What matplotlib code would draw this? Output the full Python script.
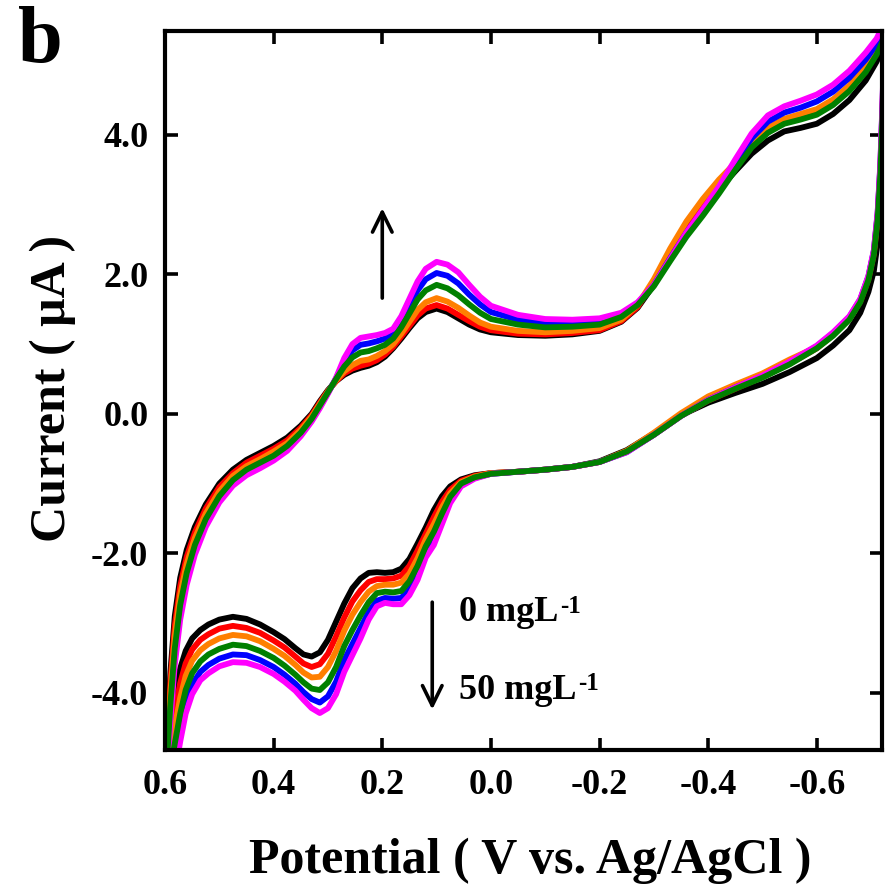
import matplotlib
matplotlib.use("Agg")
import matplotlib.pyplot as plt
import numpy as np

plt.rcParams["font.family"] = ["Liberation Serif", "DejaVu Serif"]
plt.rcParams["font.weight"] = "bold"
plt.rcParams["axes.unicode_minus"] = False

# Potential grids (V vs. Ag/AgCl): forward sweep 0.6 -> -0.72, reverse sweep back
E_fwd = [0.600, 0.596, 0.590, 0.582, 0.572, 0.560, 0.545, 0.525, 0.500, 0.475,
         0.450, 0.425, 0.400, 0.375, 0.350, 0.330, 0.315, 0.300, 0.285, 0.270,
         0.255, 0.240, 0.225, 0.210, 0.195, 0.180, 0.165, 0.150, 0.135, 0.120,
         0.100, 0.080, 0.060, 0.040, 0.020, 0.000, -0.050, -0.100, -0.150, -0.200,
         -0.240, -0.270, -0.300, -0.330, -0.360, -0.390, -0.420, -0.450, -0.480, -0.510,
         -0.540, -0.570, -0.600, -0.630, -0.660, -0.690, -0.710, -0.724]

E_rev = [-0.724, -0.721, -0.717, -0.712, -0.705, -0.695, -0.680, -0.660, -0.630, -0.600,
         -0.550, -0.500, -0.450, -0.400, -0.350, -0.300, -0.250, -0.200, -0.150, -0.100,
         -0.050, 0.000, 0.030, 0.055, 0.075, 0.090, 0.105, 0.120, 0.135, 0.150,
         0.165, 0.180, 0.195, 0.210, 0.225, 0.240, 0.255, 0.270, 0.285, 0.300,
         0.315, 0.330, 0.345, 0.360, 0.380, 0.400, 0.425, 0.450, 0.475, 0.500,
         0.520, 0.535, 0.550, 0.562, 0.572, 0.582, 0.590, 0.600]

# Current (uA) for each concentration step, 0 -> 50 mg/L
I_fwd_black = [-5.40, -4.60, -3.70, -2.90, -2.35, -1.95, -1.62, -1.30, -1.00, -0.80,
               -0.66, -0.56, -0.46, -0.34, -0.17, 0.00, 0.18, 0.34, 0.47, 0.56,
               0.62, 0.66, 0.69, 0.74, 0.82, 0.94, 1.08, 1.23, 1.37, 1.46,
               1.51, 1.46, 1.37, 1.28, 1.21, 1.17, 1.13, 1.12, 1.14, 1.19,
               1.32, 1.52, 1.85, 2.25, 2.62, 2.92, 3.22, 3.48, 3.73, 3.92,
               4.05, 4.10, 4.16, 4.30, 4.50, 4.78, 5.05, 5.30]
I_fwd_red = [-5.44, -4.70, -3.84, -3.04, -2.47, -2.05, -1.70, -1.36, -1.05, -0.85,
             -0.70, -0.60, -0.50, -0.38, -0.20, -0.02, 0.16, 0.33, 0.47, 0.58,
             0.65, 0.69, 0.72, 0.77, 0.85, 0.96, 1.11, 1.26, 1.41, 1.51,
             1.56, 1.51, 1.42, 1.33, 1.25, 1.20, 1.15, 1.14, 1.16, 1.20,
             1.33, 1.53, 1.90, 2.30, 2.67, 2.97, 3.27, 3.56, 3.86, 4.08,
             4.21, 4.28, 4.35, 4.49, 4.69, 4.96, 5.20, 5.44]
I_fwd_orange = [-5.48, -4.80, -3.98, -3.18, -2.59, -2.15, -1.78, -1.43, -1.11, -0.89,
                -0.75, -0.65, -0.54, -0.42, -0.23, -0.04, 0.14, 0.32, 0.48, 0.61,
                0.70, 0.76, 0.78, 0.83, 0.90, 1.00, 1.15, 1.32, 1.49, 1.60,
                1.66, 1.61, 1.52, 1.41, 1.31, 1.25, 1.19, 1.17, 1.19, 1.23,
                1.35, 1.56, 1.93, 2.37, 2.76, 3.08, 3.36, 3.60, 3.88, 4.10,
                4.23, 4.30, 4.37, 4.51, 4.71, 4.98, 5.22, 5.45]
I_fwd_green = [-5.53, -4.93, -4.16, -3.36, -2.74, -2.28, -1.88, -1.51, -1.18, -0.95,
               -0.80, -0.70, -0.60, -0.46, -0.27, -0.07, 0.12, 0.31, 0.50, 0.68,
               0.81, 0.88, 0.90, 0.94, 0.99, 1.08, 1.24, 1.44, 1.64, 1.77,
               1.85, 1.80, 1.70, 1.57, 1.45, 1.36, 1.28, 1.24, 1.25, 1.28,
               1.39, 1.56, 1.83, 2.19, 2.54, 2.84, 3.16, 3.50, 3.82, 4.03,
               4.16, 4.22, 4.29, 4.43, 4.63, 4.90, 5.15, 5.39]
I_fwd_blue = [-5.56, -5.01, -4.27, -3.47, -2.84, -2.36, -1.95, -1.56, -1.22, -0.99,
              -0.84, -0.74, -0.63, -0.50, -0.29, -0.09, 0.10, 0.30, 0.51, 0.74,
              0.91, 0.99, 1.01, 1.04, 1.08, 1.15, 1.32, 1.55, 1.77, 1.93,
              2.02, 1.98, 1.87, 1.71, 1.57, 1.46, 1.35, 1.30, 1.30, 1.33,
              1.42, 1.58, 1.85, 2.23, 2.60, 2.92, 3.24, 3.61, 3.95, 4.19,
              4.32, 4.39, 4.48, 4.62, 4.82, 5.08, 5.30, 5.53]
I_fwd_magenta = [-5.60, -5.10, -4.40, -3.60, -2.95, -2.45, -2.02, -1.62, -1.27, -1.03,
                 -0.88, -0.78, -0.67, -0.53, -0.32, -0.11, 0.08, 0.29, 0.52, 0.80,
                 1.00, 1.09, 1.11, 1.13, 1.16, 1.22, 1.40, 1.65, 1.90, 2.08,
                 2.18, 2.14, 2.03, 1.85, 1.68, 1.55, 1.42, 1.36, 1.35, 1.37,
                 1.45, 1.60, 1.85, 2.22, 2.60, 2.93, 3.26, 3.65, 4.02, 4.28,
                 4.41, 4.49, 4.58, 4.72, 4.92, 5.18, 5.38, 5.60]

I_rev_black = [4.60, 3.70, 2.95, 2.45, 2.05, 1.75, 1.45, 1.20, 0.98, 0.80,
               0.60, 0.43, 0.30, 0.16, -0.02, -0.28, -0.52, -0.68, -0.76, -0.80,
               -0.83, -0.85, -0.88, -0.94, -1.04, -1.18, -1.38, -1.63, -1.86, -2.08,
               -2.22, -2.27, -2.28, -2.27, -2.28, -2.36, -2.50, -2.72, -2.98, -3.24,
               -3.42, -3.48, -3.45, -3.36, -3.23, -3.13, -3.02, -2.94, -2.91, -2.95,
               -3.02, -3.10, -3.22, -3.40, -3.65, -4.05, -4.55, -5.40]
I_rev_red = [5.16, 4.34, 3.47, 2.81, 2.29, 1.93, 1.61, 1.36, 1.13, 0.94,
             0.72, 0.53, 0.36, 0.19, -0.03, -0.30, -0.54, -0.69, -0.76, -0.80,
             -0.83, -0.85, -0.89, -0.96, -1.09, -1.26, -1.48, -1.72, -1.96, -2.18,
             -2.32, -2.36, -2.37, -2.37, -2.41, -2.53, -2.69, -2.92, -3.19, -3.44,
             -3.59, -3.63, -3.58, -3.48, -3.35, -3.25, -3.14, -3.07, -3.04, -3.08,
             -3.16, -3.24, -3.38, -3.58, -3.86, -4.27, -4.72, -5.44]
I_rev_orange = [5.23, 4.42, 3.54, 2.86, 2.32, 1.96, 1.63, 1.38, 1.15, 0.96,
                0.78, 0.58, 0.42, 0.25, 0.01, -0.27, -0.53, -0.69, -0.76, -0.80,
                -0.83, -0.85, -0.90, -0.98, -1.14, -1.34, -1.58, -1.80, -2.07, -2.29,
                -2.42, -2.45, -2.45, -2.47, -2.55, -2.70, -2.88, -3.11, -3.40, -3.63,
                -3.77, -3.78, -3.71, -3.60, -3.47, -3.37, -3.26, -3.19, -3.17, -3.22,
                -3.30, -3.39, -3.54, -3.76, -4.07, -4.49, -4.89, -5.48]
I_rev_green = [5.13, 4.30, 3.44, 2.79, 2.28, 1.92, 1.60, 1.35, 1.12, 0.94,
               0.71, 0.52, 0.36, 0.19, -0.03, -0.30, -0.54, -0.69, -0.76, -0.80,
               -0.83, -0.86, -0.91, -1.00, -1.19, -1.43, -1.69, -1.90, -2.18, -2.40,
               -2.54, -2.56, -2.55, -2.57, -2.70, -2.89, -3.10, -3.33, -3.63, -3.85,
               -3.96, -3.94, -3.85, -3.74, -3.61, -3.50, -3.40, -3.33, -3.31, -3.37,
               -3.45, -3.55, -3.72, -3.96, -4.30, -4.73, -5.08, -5.52]
I_rev_blue = [5.27, 4.46, 3.57, 2.88, 2.34, 1.97, 1.64, 1.39, 1.16, 0.97,
              0.74, 0.54, 0.38, 0.20, -0.03, -0.30, -0.55, -0.69, -0.76, -0.80,
              -0.83, -0.86, -0.92, -1.02, -1.24, -1.51, -1.80, -1.99, -2.29, -2.51,
              -2.64, -2.65, -2.64, -2.68, -2.84, -3.07, -3.30, -3.53, -3.84, -4.05,
              -4.14, -4.09, -3.99, -3.87, -3.74, -3.63, -3.53, -3.46, -3.45, -3.51,
              -3.60, -3.70, -3.88, -4.15, -4.52, -4.96, -5.26, -5.57]
I_rev_magenta = [5.30, 4.50, 3.60, 2.90, 2.35, 1.98, 1.65, 1.40, 1.17, 0.98,
                 0.75, 0.55, 0.38, 0.20, -0.03, -0.30, -0.55, -0.69, -0.76, -0.80,
                 -0.83, -0.86, -0.93, -1.04, -1.28, -1.58, -1.88, -2.06, -2.38, -2.60,
                 -2.73, -2.73, -2.71, -2.76, -2.95, -3.22, -3.46, -3.70, -4.02, -4.22,
                 -4.29, -4.22, -4.10, -3.97, -3.84, -3.73, -3.63, -3.57, -3.56, -3.62,
                 -3.72, -3.82, -4.02, -4.30, -4.70, -5.15, -5.40, -5.60]

series_colors = ["#000000", "#ff0000", "#ff7f00", "#0000ff", "#ff00ff", "#008000"]
series_fwd = [I_fwd_black, I_fwd_red, I_fwd_orange, I_fwd_blue, I_fwd_magenta, I_fwd_green]
series_rev = [I_rev_black, I_rev_red, I_rev_orange, I_rev_blue, I_rev_magenta, I_rev_green]

x_ticks = [0.6, 0.4, 0.2, 0.0, -0.2, -0.4, -0.6]
x_ticklabels = ["0.6", "0.4", "0.2", "0.0", "-0.2", "-0.4", "-0.6"]
y_ticks = [4.0, 2.0, 0.0, -2.0, -4.0]
y_ticklabels = ["4.0", "2.0", "0.0", "-2.0", "-4.0"]

W, H = 887, 884
fig = plt.figure(figsize=(W / 100, H / 100), dpi=100)
ax = fig.add_axes([165 / W, 1 - 750 / H, (882 - 165) / W, (750 - 31) / H])

for c, fwd, rev in zip(series_colors, series_fwd, series_rev):
    x = np.concatenate([E_fwd, E_rev])
    y = np.concatenate([fwd, rev])
    ax.plot(x, y, color=c, lw=4.2, solid_joinstyle="round", solid_capstyle="round")

ax.set_xlim(0.6, -0.72)
ax.set_ylim(-4.82, 5.49)
ax.set_xticks(x_ticks)
ax.set_xticklabels(x_ticklabels)
ax.set_yticks(y_ticks)
ax.set_yticklabels(y_ticklabels)
ax.tick_params(direction="in", length=9, width=2.6, top=True, right=True,
               labelsize=26)
ax.tick_params(axis="x", pad=14)
ax.tick_params(axis="y", pad=12)
for lab in ax.get_xticklabels() + ax.get_yticklabels():
    lab.set_fontweight("bold")
for sp in ax.spines.values():
    sp.set_linewidth(3.0)

# Concentration trend arrows and labels
arrow_kw = dict(arrowstyle="->,head_length=0.65,head_width=0.32", lw=2.6,
                color="black", shrinkA=0, shrinkB=0, mutation_scale=22)
ax.annotate("", xy=(0.200, 2.95), xytext=(0.200, 1.66), arrowprops=arrow_kw)
ax.annotate("", xy=(0.108, -4.24), xytext=(0.108, -2.70), arrowprops=arrow_kw)

for conc, yv in [("0", -2.85), ("50", -3.96)]:
    t = ax.text(0.058, yv, conc + " mgL", fontsize=26, fontweight="bold",
                ha="left", va="center")
    ax.annotate("-1", xy=(1.0, 1.04), xycoords=t, xytext=(1, 0),
                textcoords="offset points", fontsize=18, fontweight="bold",
                ha="left", va="top")

fig.text(530 / W, 1 - 873 / H, "Potential ( V vs. Ag/AgCl )", fontsize=36,
         fontweight="bold", ha="center", va="baseline")
fig.text(65 / W, 1 - 388 / H, "Current ( \u03bcA )", fontsize=36,
         fontweight="bold", ha="center", va="baseline", rotation=90,
         rotation_mode="anchor")
fig.text(18 / W, 1 - 6 / H, "b", fontsize=58, fontweight="bold",
         ha="left", va="top")

fig.savefig("out.png", dpi=100)
